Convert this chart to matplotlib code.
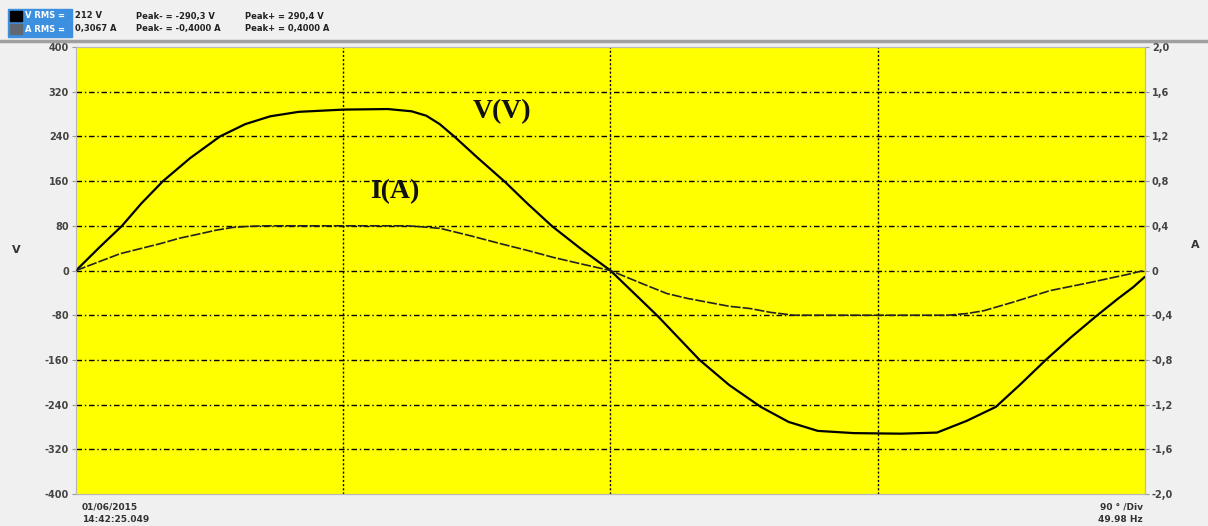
import matplotlib.pyplot as plt
import matplotlib.patches as mpatches

# voltage trace, degrees vs volts
deg_v = [0, 8, 15.5, 22, 29.3, 38.4, 48.5, 57, 65.4, 75, 90, 105, 113, 118, 122.5, 127.8,
         135, 144.6, 152, 160.4, 170, 180, 188, 196, 203, 210, 220, 230.6, 240, 249.8,
         262, 277.8, 290, 300, 309.8, 318, 326.6, 335, 343.5, 351, 356, 359.8]
volts = [0, 42, 80, 120, 160, 201, 240, 262, 276, 284, 288, 289, 285, 277, 262, 238,
         203, 158, 120, 79, 39, 0, -41, -82, -121, -160, -205, -244, -271, -287,
         -291, -292, -290, -269, -244, -204, -160, -120, -82, -50, -30, -12]

# current trace, degrees vs amps
deg_i = [0, 14.8, 28.3, 35, 42, 47, 52.9, 58, 64, 111.6, 117, 122.7, 133, 143, 152,
         160.8, 170, 180, 190, 199, 206, 214, 220, 227, 234, 241.7, 293.6, 300, 305.7,
         316, 328, 341, 355, 359.5]
amps = [0, 0.15, 0.24, 0.29, 0.33, 0.36, 0.386, 0.395, 0.40, 0.40, 0.39, 0.377, 0.31,
        0.24, 0.18, 0.117, 0.06, 0, -0.11, -0.206, -0.25, -0.29, -0.32, -0.34, -0.375,
        -0.40, -0.40, -0.385, -0.36, -0.28, -0.18, -0.11, -0.03, 0]

v_ticks = [400, 320, 240, 160, 80, 0, -80, -160, -240, -320, -400]
a_ticks = [2.0, 1.6, 1.2, 0.8, 0.4, 0, -0.4, -0.8, -1.2, -1.6, -2.0]
a_labels = ['2,0', '1,6', '1,2', '0,8', '0,4', '0', '-0,4', '-0,8', '-1,2', '-1,6', '-2,0']
x_grid = [90, 180, 270]

bg = '#f0f0f0'
fig = plt.figure(figsize=(12.08, 5.26), dpi=100, facecolor=bg)
ax = fig.add_axes([0.0629, 0.0608, 0.8849, 0.8498])
ax.set_facecolor('#ffff00')
ax.set_xlim(0, 360)
ax.set_ylim(-400, 400)
ax.set_xticks([])
ax.set_yticks(v_ticks)
ax.set_yticklabels([str(t) for t in v_ticks])
for s in ax.spines.values():
    s.set_color('#b8b8b8')
ax.tick_params(axis='y', length=3, color='#999999', labelsize=7, labelcolor='#444444', pad=2)
for lab in ax.get_yticklabels():
    lab.set_fontweight('bold')

ax2 = ax.twinx()
ax2.set_ylim(-2.0, 2.0)
ax2.set_yticks(a_ticks)
ax2.set_yticklabels(a_labels)
ax2.tick_params(axis='y', length=3, color='#999999', labelsize=7, labelcolor='#444444', pad=2)
for lab in ax2.get_yticklabels():
    lab.set_fontweight('bold')
for s in ax2.spines.values():
    s.set_color('#b8b8b8')

# grid
for t in v_ticks[1:-1]:
    ax.axhline(t, color='black', lw=1.0, ls=(0, (4, 2, 1, 2)), zorder=1)
for g in x_grid:
    ax.axvline(g, color='black', lw=1.0, ls=(0, (1.5, 1.5)), zorder=1)

ax.plot(deg_v, volts, color='black', lw=1.6, zorder=3)
ax2.plot(deg_i, amps, color='#222222', lw=1.2, ls=(0, (6, 1.2)), zorder=3)

ax.text(143.6, 284, 'V(V)', family='Liberation Serif', fontweight='bold', fontsize=20,
        ha='center', va='center', color='#111111')
ax.text(107.5, 142, 'I(A)', family='Liberation Serif', fontweight='bold', fontsize=20,
        ha='center', va='center', color='#111111')

fig.text(0.010, 0.525, 'V', fontsize=8, fontweight='bold', color='#333333', va='center')
fig.text(0.993, 0.535, 'A', fontsize=8, fontweight='bold', color='#333333', va='center', ha='right')

# header legend
fig.add_artist(mpatches.Rectangle((8 / 1208, 1 - 37 / 526), 64 / 1208, 28 / 526,
                                  transform=fig.transFigure, color='#3d8fe0'))
fig.add_artist(mpatches.Rectangle((10 / 1208, 1 - 21 / 526), 12 / 1208, 10 / 526,
                                  transform=fig.transFigure, color='black'))
fig.add_artist(mpatches.Rectangle((10 / 1208, 1 - 34 / 526), 12 / 1208, 10 / 526,
                                  transform=fig.transFigure, color='#606870'))
fig.text(25 / 1208, 1 - 16 / 526, 'V RMS =', fontsize=6, color='white', fontweight='bold', va='center')
fig.text(25 / 1208, 1 - 29 / 526, 'A RMS =', fontsize=6, color='white', fontweight='bold', va='center')
row1 = ['212 V', 'Peak- = -290,3 V', 'Peak+ = 290,4 V']
row2 = ['0,3067 A', 'Peak- = -0,4000 A', 'Peak+ = 0,4000 A']
xs = [75, 136, 245]
for x, a, b in zip(xs, row1, row2):
    fig.text(x / 1208, 1 - 16 / 526, a, fontsize=6, fontweight='bold', color='#222222', va='center')
    fig.text(x / 1208, 1 - 29 / 526, b, fontsize=6, fontweight='bold', color='#222222', va='center')
fig.add_artist(plt.Line2D([0, 1], [1 - 41 / 526, 1 - 41 / 526], transform=fig.transFigure,
                          color='#a0a0a0', lw=2.5))

# footer
fig.text(82 / 1208, 1 - 507 / 526, '01/06/2015', fontsize=6.5, fontweight='bold', color='#333333', va='center')
fig.text(82 / 1208, 1 - 520 / 526, '14:42:25.049', fontsize=6.5, fontweight='bold', color='#333333', va='center')
fig.text(1143 / 1208, 1 - 507 / 526, '90 ° /Div', fontsize=6.5, fontweight='bold', color='#333333',
         va='center', ha='right')
fig.text(1143 / 1208, 1 - 520 / 526, '49.98 Hz', fontsize=6.5, fontweight='bold', color='#333333',
         va='center', ha='right')

fig.savefig('out.png', dpi=100, facecolor=bg)
